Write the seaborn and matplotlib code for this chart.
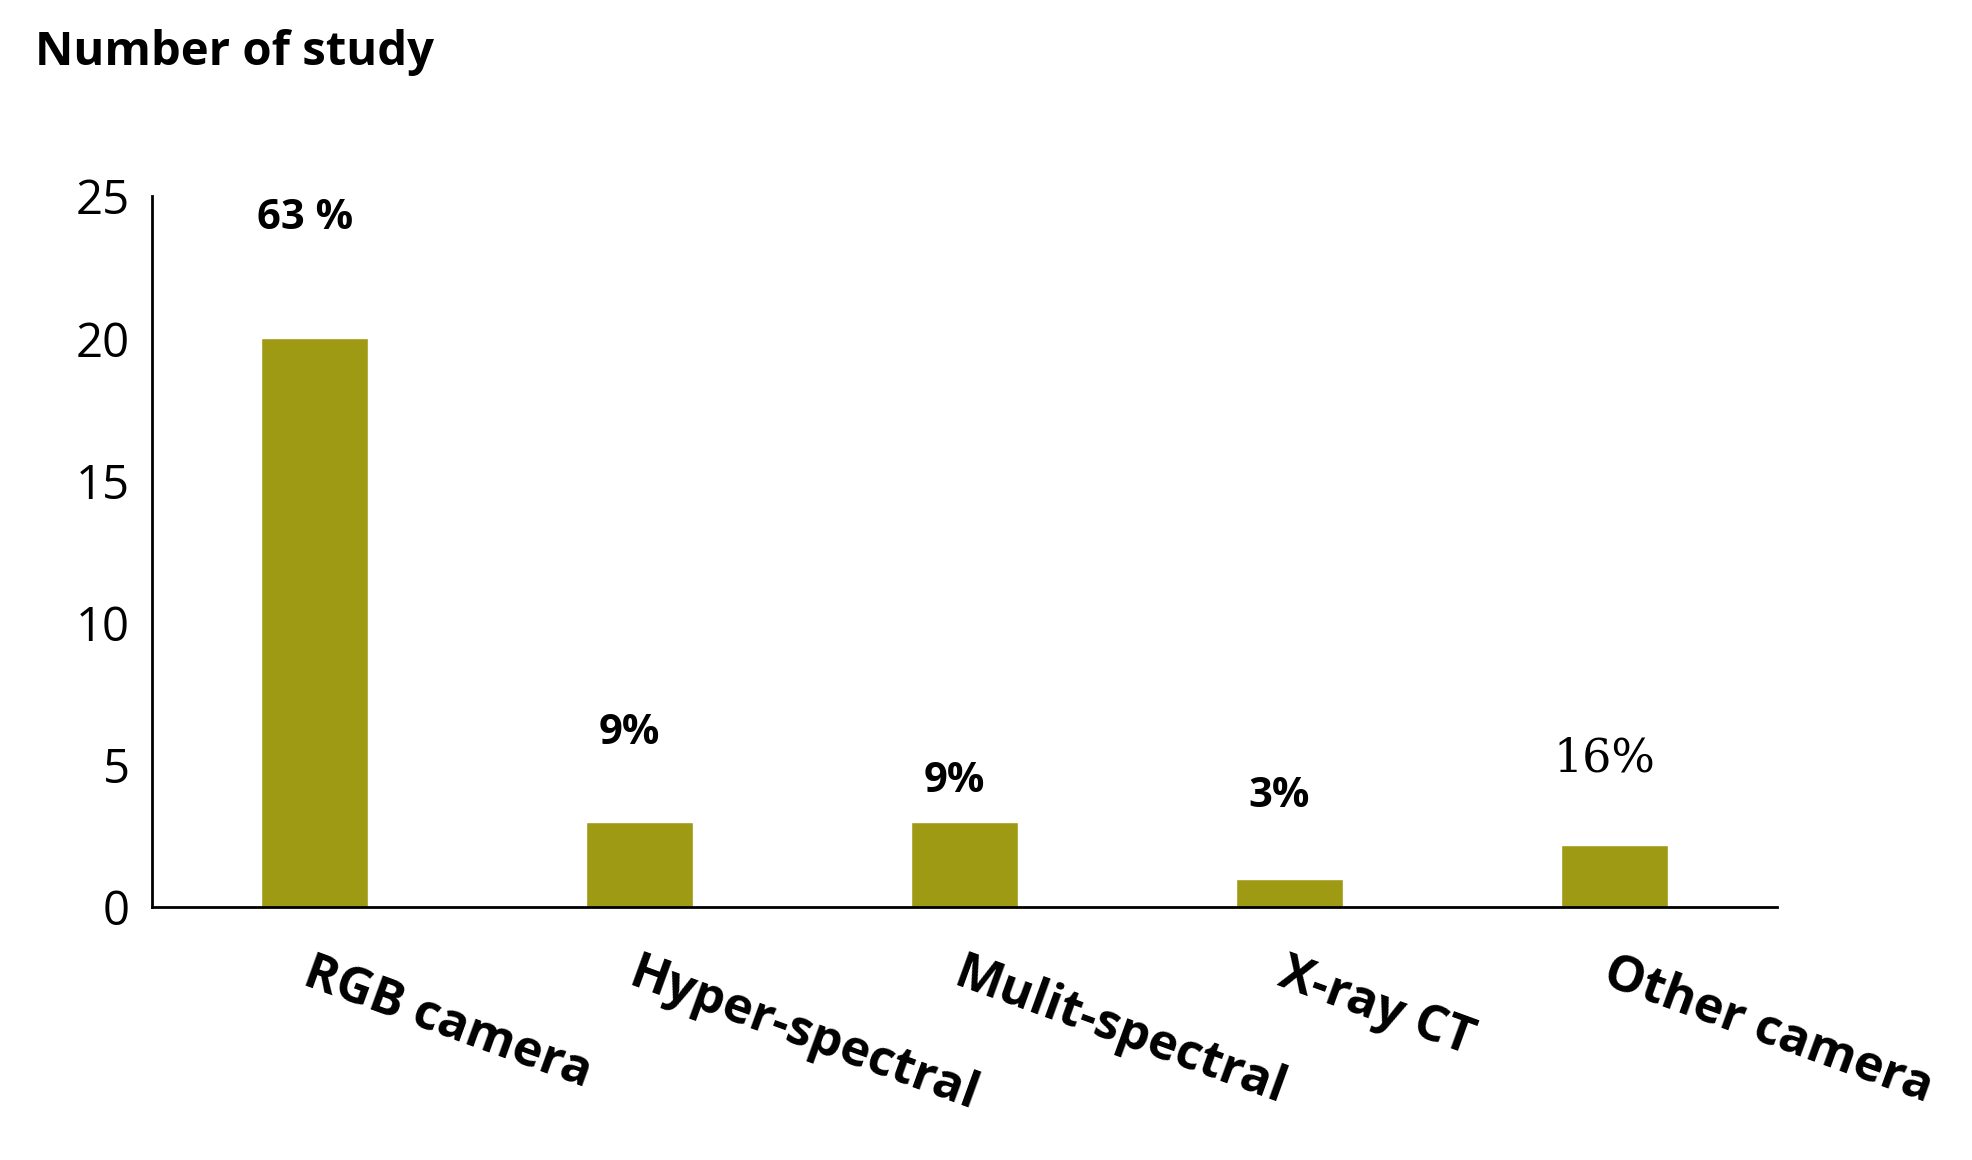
import matplotlib
matplotlib.use("Agg")
import matplotlib.pyplot as plt
import seaborn as sns
import pandas as pd

categories = ["RGB camera", "Hyper-spectral", "Mulit-spectral", "X-ray CT", "Other camera"]
counts = [20, 3, 3, 1, 2.2]
pct_labels = ["63 %", "9%", "9%", "3%", "16%"]
label_y = [24.2, 6.1, 4.4, 3.9, 5.2]

sns.set_style("white")
plt.rcParams['font.family'] = ['Open Sans', 'DejaVu Sans']
plt.rcParams['text.color'] = 'black'
plt.rcParams['xtick.color'] = 'black'
plt.rcParams['ytick.color'] = 'black'

df = pd.DataFrame({"cat": categories, "n": counts})
fig = plt.figure(figsize=(19.72, 11.6), dpi=100)
ax = fig.add_axes([0.077, 0.218, 0.824, 0.613])
sns.barplot(data=df, x="cat", y="n", color="#9e9a14", width=0.33, saturation=1, ax=ax)

ax.set_ylim(0, 25)
ax.set_xlim(-0.5, 4.5)
ax.set_yticks([0, 5, 10, 15, 20, 25])
ax.tick_params(axis='y', labelsize=34, length=10, width=2, direction='in', pad=16)
ax.tick_params(axis='x', length=0, pad=30)
ax.set_xticks(range(len(categories)))
ax.set_xticklabels(categories, rotation=-20, ha='left', rotation_mode='anchor',
                   fontsize=36, fontweight='bold')
ax.set_xlabel("")
ax.set_ylabel("")
sns.despine(ax=ax)
for s in ["left", "bottom"]:
    ax.spines[s].set_linewidth(2)
    ax.spines[s].set_color("black")

for i, (t, y) in enumerate(zip(pct_labels, label_y)):
    if t == "16%":
        ax.text(i - 0.03, y, t, ha='center', va='center', fontsize=33, family='DejaVu Serif')
    else:
        ax.text(i - 0.03, y, t, ha='center', va='center', fontsize=30, fontweight='bold')

fig.text(0.018, 0.955, "Number of study", fontsize=34, fontweight='bold', va='center')
fig.savefig("out.png", dpi=100)
